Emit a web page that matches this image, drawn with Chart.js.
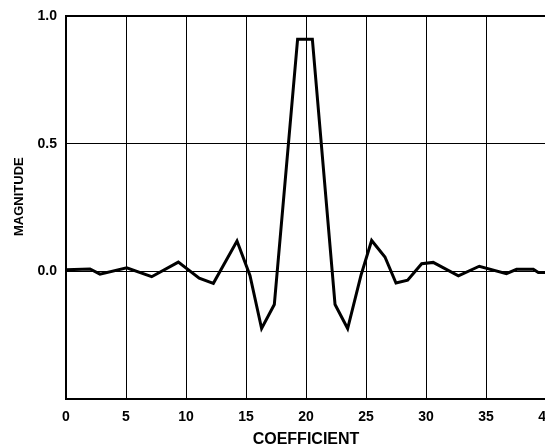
<!DOCTYPE html>
<html><head><meta charset="utf-8">
<script src="https://cdn.jsdelivr.net/npm/chart.js@4/dist/chart.umd.min.js"></script>
<style>html,body{margin:0;padding:0;overflow:hidden;background:#fff}#wrap{position:relative;width:560px;height:447px}</style>
</head><body><div id="wrap"><canvas id="c"></canvas></div>
<script>
const coefficients = [0, 2.0, 2.83, 5.06, 7.14, 9.36, 11.1, 12.28, 14.25, 15.33, 16.3, 17.36, 19.3, 20.53, 22.42, 23.47, 24.58, 25.47, 26.58, 27.5, 28.47, 29.64, 30.6, 32.7, 34.44, 36.7, 37.55, 38.94, 39.36, 40];
const magnitudes   = [0.006, 0.009, -0.011, 0.014, -0.021, 0.036, -0.027, -0.047, 0.119, -0.016, -0.224, -0.13, 0.909, 0.909, -0.13, -0.224, -0.016, 0.121, 0.056, -0.046, -0.035, 0.03, 0.035, -0.018, 0.02, -0.009, 0.008, 0.008, -0.005, -0.005];
const xTickValues = [0, 5, 10, 15, 20, 25, 30, 35, 40];
const yTickValues = [-0.5, 0.0, 0.5, 1.0];
const xTitle = 'COEFFICIENT';
const yTitle = 'MAGNITUDE';

const points = coefficients.map((x, i) => ({x: x, y: magnitudes[i]}));
const fontFamily = '"Liberation Sans", Arial, Helvetica, sans-serif';

new Chart(document.getElementById('c'), {
  type: 'line',
  data: { datasets: [{
    data: points,
    borderColor: '#000',
    borderWidth: 3,
    pointRadius: 0,
    tension: 0,
    fill: false
  }]},
  options: {
    responsive: true,
    maintainAspectRatio: false,
    animation: false,
    layout: { padding: { left: 12, top: 16, right: 14, bottom: 0 } },
    plugins: { legend: { display: false }, tooltip: { enabled: false } },
    scales: {
      x: {
        type: 'linear',
        min: xTickValues[0], max: xTickValues[xTickValues.length - 1],
        afterBuildTicks: s => { s.ticks = xTickValues.map(v => ({value: v})); },
        ticks: { color: '#000', padding: 10, autoSkip: false, maxRotation: 0,
                 font: { family: fontFamily, size: 14, weight: 'bold' },
                 callback: v => String(v) },
        grid: { color: '#000', lineWidth: 1, drawTicks: false },
        border: { color: '#000', width: 2 },
        title: { display: true, text: xTitle, color: '#000', padding: { top: 0, bottom: -2 },
                 font: { family: fontFamily, size: 16, weight: 'bold' } },
        afterFit: s => { s.height = 48; s.paddingLeft = 0; s.paddingRight = 0; }
      },
      y: {
        type: 'linear',
        min: yTickValues[0], max: yTickValues[yTickValues.length - 1],
        afterBuildTicks: s => { s.ticks = yTickValues.map(v => ({value: v})); },
        ticks: { color: '#000', padding: 9,
                 font: { family: fontFamily, size: 14, weight: 'bold' },
                 callback: v => (v < 0 ? '' : Number(v).toFixed(1)) },
        grid: { color: '#000', lineWidth: c => (c.tick && c.tick.value === 1 ? 2 : 1), drawTicks: false },
        border: { color: '#000', width: 2 },
        title: { display: true, text: '      ' + yTitle, color: '#000', padding: 0,
                 font: { family: fontFamily, size: 13, weight: 'bold' } },
        afterFit: s => { s.width = 54; s.paddingTop = 0; s.paddingBottom = 0; }
      }
    }
  }
});
</script>
</body></html>
